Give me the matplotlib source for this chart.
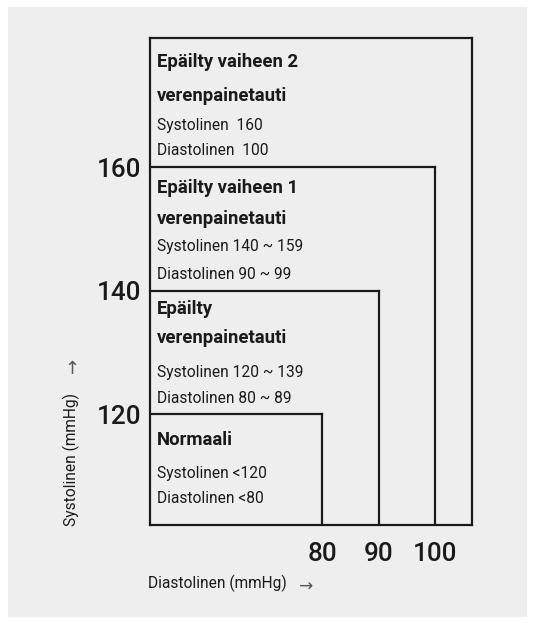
import matplotlib
matplotlib.use("Agg")
import matplotlib.pyplot as plt
from matplotlib.patches import Rectangle

# ---- data ----
dia_thresholds = [80, 90, 100]          # diastolic boundaries (mmHg)
sys_thresholds = [120, 140, 160]        # systolic boundaries (mmHg)
x_limits = [49.6, 106.5]
y_limits = [102.0, 181.0]

titles = [
    ["Normaali"],
    ["Epäilty", "verenpainetauti"],
    ["Epäilty vaiheen 1", "verenpainetauti"],
    ["Epäilty vaiheen 2", "verenpainetauti"],
]
details = [
    ["Systolinen <120", "Diastolinen <80"],
    ["Systolinen 120 ~ 139", "Diastolinen 80 ~ 89"],
    ["Systolinen 140 ~ 159", "Diastolinen 90 ~ 99"],
    ["Systolinen  160", "Diastolinen  100"],
]
# ---- styling / layout ----
W, H = 534, 623
DPI = 72
FONT = ['Roboto', 'DejaVu Sans']
plt.rcParams['font.family'] = FONT
ink = "#1a1a1a"
bg = "#eeeeee"

# vertical offsets (px) of each text line from its box top
title_offsets = [[26], [18, 47], [21, 52], [24, 58]]
detail_offsets = [[59, 84], [82, 108], [79, 107], [87, 112]]

fig = plt.figure(figsize=(W / DPI, H / DPI), dpi=DPI, facecolor="white")
fig.patches.append(Rectangle((8 / W, 1 - 617 / H), (527 - 8) / W, (617 - 7) / H,
                             transform=fig.transFigure, facecolor=bg, edgecolor="none", zorder=-5))

ax = fig.add_axes([150 / W, 1 - 525 / H, (472 - 150) / W, (525 - 38) / H])
ax.set_facecolor("none")
ax.set_xlim(*x_limits)
ax.set_ylim(*y_limits)
for s in ax.spines.values():
    s.set_color(ink)
    s.set_linewidth(2.2)

lw = 2.2
for d, s in zip(dia_thresholds, sys_thresholds):
    ax.plot([x_limits[0], d], [s, s], color=ink, lw=lw, solid_capstyle="projecting")
    ax.plot([d, d], [y_limits[0], s], color=ink, lw=lw, solid_capstyle="projecting")

box_tops = sys_thresholds + [y_limits[1]]
for top, tl, to, dl, do in zip(box_tops, titles, title_offsets, details, detail_offsets):
    for txt, off in zip(tl, to):
        ax.annotate(txt, xy=(x_limits[0], top), xytext=(7, -off), textcoords="offset points",
                    ha="left", va="center", fontsize=18.5, fontweight="bold", color=ink)
    for txt, off in zip(dl, do):
        ax.annotate(txt, xy=(x_limits[0], top), xytext=(7, -off), textcoords="offset points",
                    ha="left", va="center", fontsize=15.5, color=ink)

ax.set_xticks(dia_thresholds)
ax.set_xticklabels([str(v) for v in dia_thresholds])
ax.set_yticks(sys_thresholds)
ax.set_yticklabels([str(v) for v in sys_thresholds])
ax.tick_params(axis="both", length=0, labelsize=26, colors=ink)
for lab in ax.get_xticklabels() + ax.get_yticklabels():
    lab.set_fontweight(500)
ax.tick_params(axis="x", pad=17)
ax.tick_params(axis="y", pad=9)

fig.text(148 / W, 1 - 583 / H, "Diastolinen (mmHg)", ha="left", va="center", fontsize=15.5, color=ink)
fig.text(306 / W, 1 - 587 / H, "→", ha="center", va="center", fontsize=17, color="#555555",
         family=['DejaVu Sans'])
fig.text(71 / W, 1 - 460 / H, "Systolinen (mmHg)", ha="center", va="center", rotation=90,
         fontsize=15.5, color=ink)
fig.text(72 / W, 1 - 369 / H, "↑", ha="center", va="center", fontsize=18, color="#555555",
         family=['DejaVu Sans'])

fig.savefig("out.png", dpi=DPI, facecolor="white")
